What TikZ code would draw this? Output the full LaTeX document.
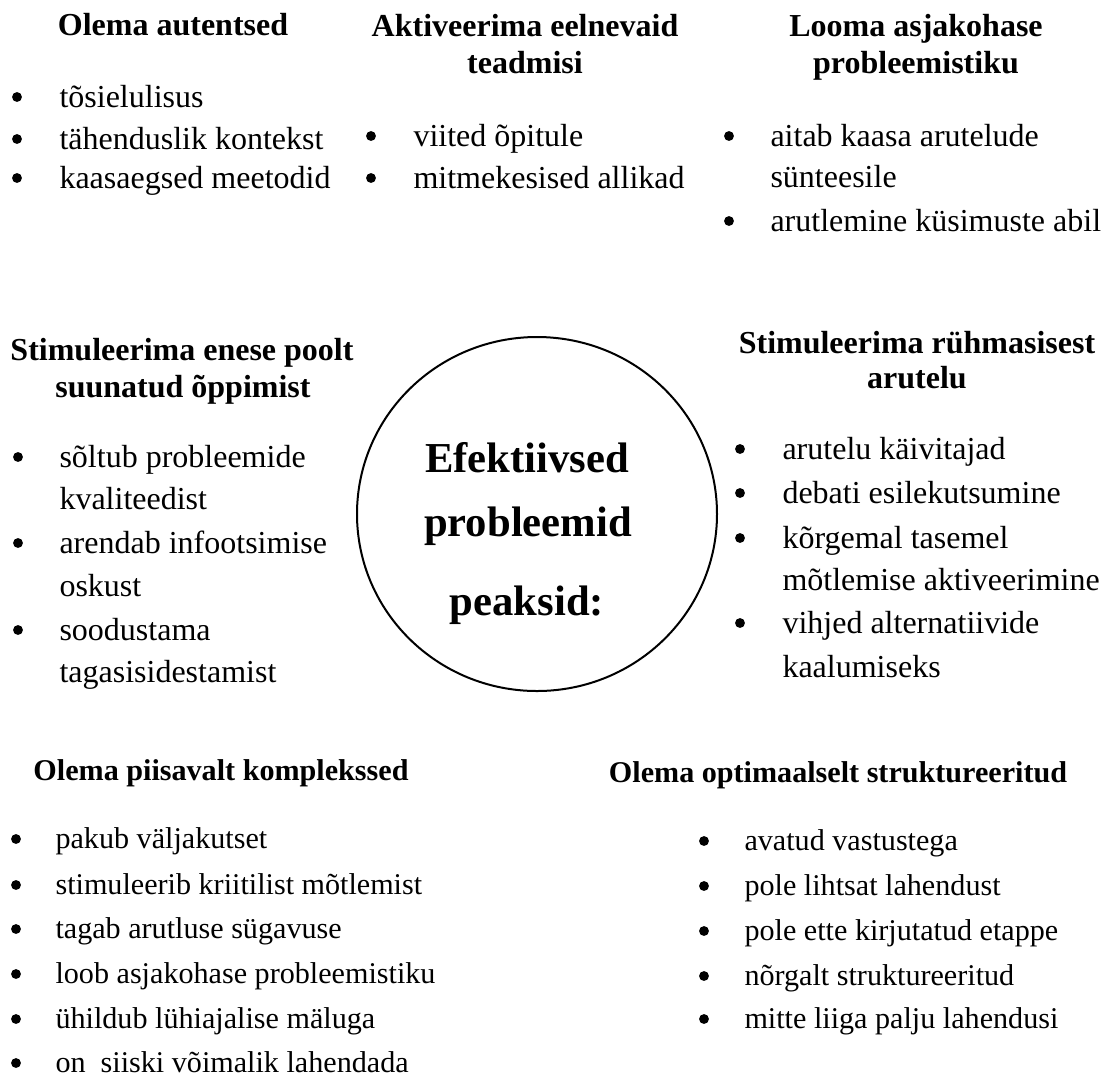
\documentclass[tikz,border=0pt]{standalone}
\usepackage{fontspec}
\setmainfont{Liberation Serif}
\begin{document}
\begin{tikzpicture}[x=0.375pt,y=-0.375pt,
  txt/.style={inner sep=0pt,anchor=base west,font=\fontsize{12}{14}\selectfont},
  head/.style={inner sep=0pt,anchor=base,font=\fontsize{12}{14}\selectfont\bfseries},
  txtsm/.style={txt,font=\fontsize{11.3}{13}\selectfont},
  headsm/.style={head,font=\fontsize{11.3}{13}\selectfont\bfseries},
  core/.style={inner sep=0pt,anchor=base,font=\fontsize{16}{19}\selectfont\bfseries},
  dot/.style={circle,fill=black,inner sep=0pt,minimum size=3.7pt}]
\useasboundingbox (0,0) rectangle (1111,1077);

% central ellipse
\draw[line width=0.75pt] (537,514) ellipse [x radius=180, y radius=177];
\node[core] (c1) at (527,472) {Efektiivsed};
\node[core] (c2) at (528,536) {probleemid};
\node[core] (c3) at (527,615) {peaksid:};

% top left group
\node[head] (h1) at (173,35) {Olema autentsed};
\node[dot] (b11) at (17,97) {};  \node[txt] (t11) at (59,107) {tõsielulisus};
\node[dot] (b12) at (17,139) {}; \node[txt] (t12) at (59,149) {tähenduslik kontekst};
\node[dot] (b13) at (17,178) {}; \node[txt] (t13) at (59,188) {kaasaegsed meetodid};

% top middle group
\node[head] (h2a) at (525,36) {Aktiveerima eelnevaid};
\node[head] (h2b) at (525,73) {teadmisi};
\node[dot] (b21) at (371,136) {}; \node[txt] (t21) at (413,146) {viited õpitule};
\node[dot] (b22) at (371,178) {}; \node[txt] (t22) at (413,188) {mitmekesised allikad};

% top right group
\node[head] (h3a) at (916,36) {Looma asjakohase};
\node[head] (h3b) at (916,73) {probleemistiku};
\node[dot] (b31) at (729,136) {}; \node[txt] (t31) at (770,146) {aitab kaasa arutelude};
                                  \node[txt] (t32) at (770,187) {sünteesile};
\node[dot] (b33) at (729,221) {}; \node[txt] (t33) at (770,231) {arutlemine küsimuste abil};

% middle left group
\node[head] (h4a) at (182,360) {Stimuleerima enese poolt};
\node[head] (h4b) at (183,397) {suunatud õppimist};
\node[dot] (b41) at (18,457) {}; \node[txt] (t41) at (59,467) {sõltub probleemide};
                                 \node[txt] (t42) at (59,509) {kvaliteedist};
\node[dot] (b43) at (18,543) {}; \node[txt] (t43) at (59,553) {arendab infootsimise};
                                 \node[txt] (t44) at (59,596) {oskust};
\node[dot] (b45) at (18,630) {}; \node[txt] (t45) at (59,640) {soodustama};
                                 \node[txt] (t46) at (59,682) {tagasisidestamist};

% middle right group
\node[head] (h5a) at (917,353) {Stimuleerima rühmasisest};
\node[head] (h5b) at (917,388) {arutelu};
\node[dot] (b51) at (740,449) {}; \node[txt] (t51) at (782,459) {arutelu käivitajad};
\node[dot] (b52) at (740,493) {}; \node[txt] (t52) at (782,503) {debati esilekutsumine};
\node[dot] (b53) at (740,538) {}; \node[txt] (t53) at (782,548) {kõrgemal tasemel};
                                  \node[txt] (t54) at (782,590) {mõtlemise aktiveerimine};
\node[dot] (b55) at (740,623) {}; \node[txt] (t55) at (782,633) {vihjed alternatiivide};
                                  \node[txt] (t56) at (782,677) {kaalumiseks};

% bottom left group
\node[headsm] (h6) at (221,780) {Olema piisavalt komplekssed};
\node[dot] (b61) at (16,839) {};  \node[txtsm] (t61) at (55,848) {pakub väljakutset};
\node[dot] (b62) at (16,885) {};  \node[txtsm] (t62) at (55,894) {stimuleerib kriitilist mõtlemist};
\node[dot] (b63) at (16,929) {};  \node[txtsm] (t63) at (55,938) {tagab arutluse sügavuse};
\node[dot] (b64) at (16,974) {};  \node[txtsm] (t64) at (55,983) {loob asjakohase probleemistiku};
\node[dot] (b65) at (16,1019) {}; \node[txtsm] (t65) at (55,1028) {ühildub lühiajalise mäluga};
\node[dot] (b66) at (16,1063) {}; \node[txtsm] (t66) at (55,1072) {on\ \ siiski võimalik lahendada};

% bottom right group
\node[headsm] (h7) at (838,782) {Olema optimaalselt struktureeritud};
\node[dot] (b71) at (704,841) {};  \node[txtsm] (t71) at (744,850) {avatud vastustega};
\node[dot] (b72) at (704,886) {};  \node[txtsm] (t72) at (744,895) {pole lihtsat lahendust};
\node[dot] (b73) at (704,931) {};  \node[txtsm] (t73) at (744,940) {pole ette kirjutatud etappe};
\node[dot] (b74) at (704,976) {};  \node[txtsm] (t74) at (744,985) {nõrgalt struktureeritud};
\node[dot] (b75) at (704,1019) {}; \node[txtsm] (t75) at (744,1028) {mitte liiga palju lahendusi};
\end{tikzpicture}
\end{document}
